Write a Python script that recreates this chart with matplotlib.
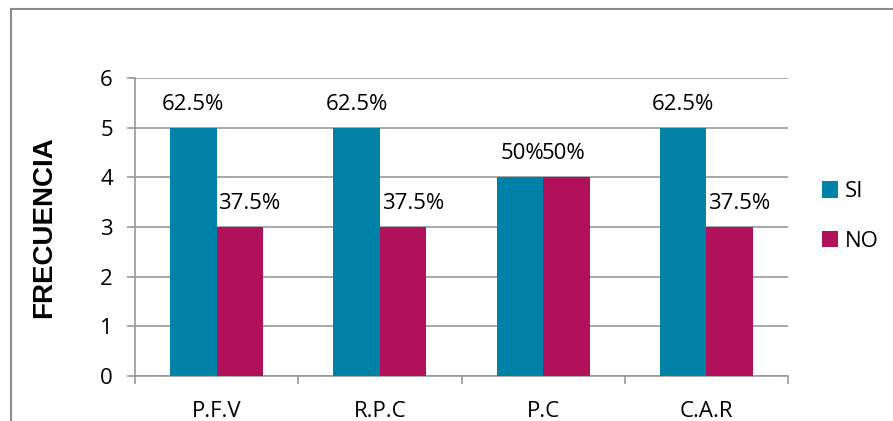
import numpy as np
import matplotlib
matplotlib.use("Agg")
import matplotlib.pyplot as plt
from matplotlib.lines import Line2D

categorias = ["P.F.V", "R.P.C", "P.C", "C.A.R"]
si = [5, 5, 4, 5]
no = [3, 3, 4, 3]
si_pct = ["62.5%", "62.5%", "50%", "62.5%"]
no_pct = ["37.5%", "37.5%", "50%", "37.5%"]

color_si = "#0081A7"
color_no = "#B0115A"
gris = "#9a9a9a"

plt.rcParams["font.family"] = ["Open Sans", "DejaVu Sans"]

fig = plt.figure(figsize=(8.93, 4.21), dpi=100)
ax = fig.add_axes([135 / 893, 1 - 376 / 421, 653 / 893, 298 / 421])

x = np.arange(len(categorias))
w = 0.285
ax.bar(x - w / 2, si, w, color=color_si, label="SI", zorder=3)
ax.bar(x + w / 2, no, w, color=color_no, label="NO", zorder=3)

# etiquetas de porcentaje sobre cada barra
for i in range(len(categorias)):
    juntos = si[i] == no[i]
    ax.annotate(si_pct[i], (x[i] - w / 2, si[i]), xytext=(2 if juntos else 0, 13),
                textcoords="offset points", ha="center", va="baseline",
                fontsize=16, color="black")
    dx = 7 if no[i] < si[i] else -2
    ax.annotate(no_pct[i], (x[i] + w / 2, no[i]), xytext=(dx, 13),
                textcoords="offset points", ha="center", va="baseline",
                fontsize=16, color="black")

ax.set_xlim(-0.5, len(categorias) - 0.5)
ax.set_ylim(0, 6)
ax.set_yticks(range(0, 7))
ax.yaxis.grid(True, color=gris, linewidth=1.2, zorder=0)
ax.set_axisbelow(True)

ax.set_xticks(x)
ax.set_xticklabels(categorias)
ax.set_xticks(np.arange(-0.5, len(categorias)), minor=True)
ax.tick_params(axis="x", which="major", length=0, pad=18, labelsize=16)
ax.tick_params(axis="x", which="minor", length=6, width=1.2, color=gris)
ax.tick_params(axis="y", length=6, width=1.2, color=gris, pad=10, labelsize=16)

for s in ["top", "right"]:
    ax.spines[s].set_visible(False)
for s in ["left", "bottom"]:
    ax.spines[s].set_color(gris)
    ax.spines[s].set_linewidth(1.2)

ax.set_ylabel("FRECUENCIA", fontsize=20, fontweight="bold",
              family=["Liberation Sans", "DejaVu Sans"], labelpad=31)

ax.legend(loc="center left", bbox_to_anchor=(1.038, 0.535), frameon=False,
          fontsize=16, handlelength=0.75, handleheight=0.75,
          handletextpad=0.3, labelspacing=1.3, borderaxespad=0)

# marco exterior del gráfico
fig.add_artist(Line2D([11 / 893, 11 / 893], [0, 1 - 9 / 421],
                      transform=fig.transFigure, color="#8c8c8c", linewidth=1.5))
fig.add_artist(Line2D([11 / 893, 1], [1 - 9 / 421, 1 - 9 / 421],
                      transform=fig.transFigure, color="#8c8c8c", linewidth=1.5))

fig.savefig("out.png", dpi=100)
